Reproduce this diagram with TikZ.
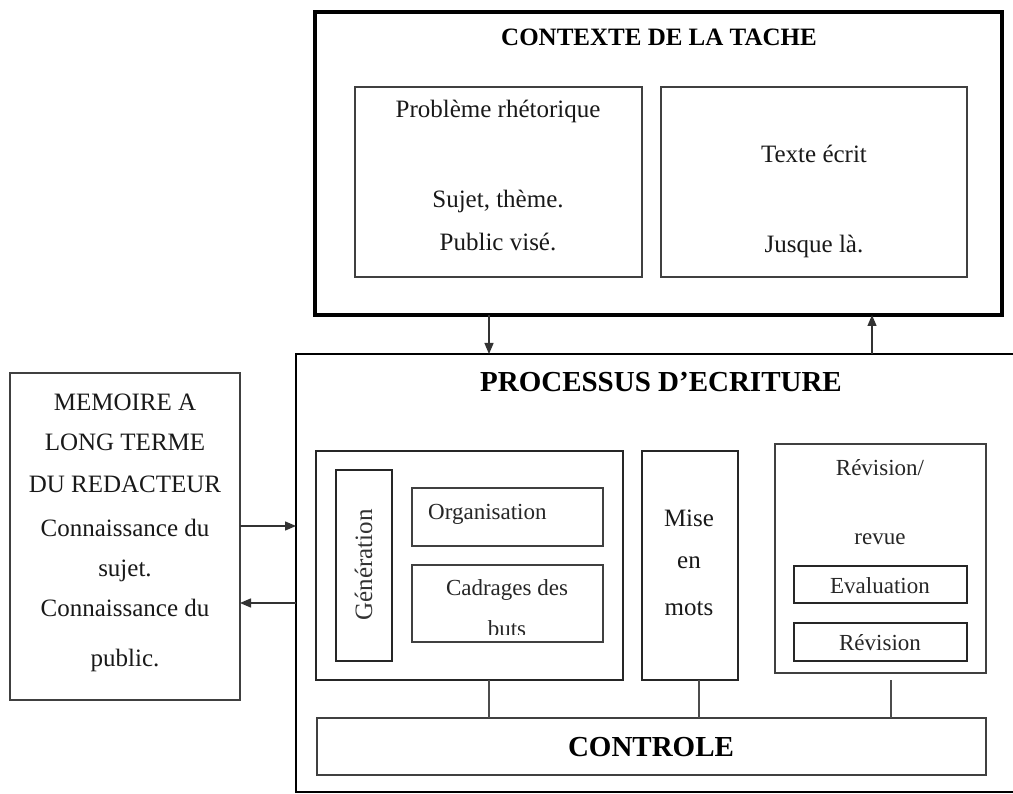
\documentclass[tikz,border=0pt]{standalone}
\usepackage{fontspec}
\setmainfont{Liberation Serif}
\usetikzlibrary{arrows.meta}
\tikzset{
  box/.style={draw=black!75, line width=1.3pt, rectangle, inner sep=0pt, outer sep=0pt},
  txt/.style={inner sep=0pt, align=center, text=black!90, font=\fontsize{25}{30}\selectfont, text height=18pt, text depth=2pt},
  stxt/.style={inner sep=0pt, align=center, text=black!85, font=\fontsize{23}{28}\selectfont, text height=16.5pt, text depth=2pt},
  ttl/.style={inner sep=0pt, align=center, text=black, font=\fontsize{25}{30}\selectfont\bfseries, text height=18pt, text depth=1pt},
  bttl/.style={inner sep=0pt, align=center, text=black, font=\fontsize{29}{34}\selectfont\bfseries, text height=21pt, text depth=1pt},
  arr/.style={draw=black!80, line width=1.3pt, -{Triangle[length=11pt,width=9pt]}},
  link/.style={draw=black!70, line width=1.2pt},
}
\newcommand\drawbox[6][]{\node[box,#1,minimum width={(#5-#3)*1pt},minimum height={(#6-#4)*1pt}] (#2) at ({(#3+#5)/2},{(#4+#6)/2}) {};}
\begin{document}
\begin{tikzpicture}[x=1pt,y=-1pt]
\clip (0,0) rectangle (1013,794);
\fill[white] (0,0) rectangle (1013,794);

% ---- Contexte de la tache
\drawbox[draw=black,line width=4.5pt]{ctx}{315}{12}{1002}{315}
\node[ttl] (ctxt) at (659,37) {CONTEXTE DE LA TACHE};
\drawbox{prob}{355}{87}{642}{277}
\node[txt] (prob1) at (498,110) {Problème rhétorique};
\node[txt] (prob2) at (498,200) {Sujet, thème.};
\node[txt] (prob3) at (498,243) {Public visé.};
\drawbox{texte}{661}{87}{967}{277}
\node[txt] (tex1) at (814,155) {Texte écrit};
\node[txt] (tex2) at (814,245) {Jusque là.};

% ---- Processus d'ecriture
\drawbox[draw=black,line width=2pt]{proc}{296}{354}{1030}{792}
\node[bttl] (proct) at (661,382) {PROCESSUS D’ECRITURE};

% generation group
\drawbox[draw=black!85]{gen}{316}{451}{623}{680}
\drawbox[draw=black!85]{genb}{336}{470}{392}{661}
\node[txt, rotate=90, text=black!80] (gent) at (364,565) {Génération};
\drawbox{org}{412}{488}{603}{546}
\node[stxt, anchor=west] (orgt) at (428,512) {Organisation};
\begin{scope}
  \clip (412,565) rectangle (603,634);
  \node[stxt] (buts) at (507,629) {buts};
\end{scope}
\drawbox{cad}{412}{565}{603}{642}
\node[stxt] (cadt) at (507,588) {Cadrages des};

% mise en mots
\drawbox[draw=black!85]{mise}{642}{451}{738}{680}
\node[txt] (mise1) at (689,518) {Mise};
\node[txt] (mise2) at (689,560) {en};
\node[txt] (mise3) at (689,607) {mots};

% revision group
\drawbox{revg}{775}{444}{986}{673}
\node[stxt] (revg1) at (880,468) {Révision/};
\node[stxt] (revg2) at (880,537) {revue};
\drawbox[draw=black!85]{eval}{794}{566}{967}{603}
\node[stxt] (evalt) at (880,586) {Evaluation};
\drawbox[draw=black!85]{rev}{794}{623}{967}{661}
\node[stxt] (revt) at (880,643) {Révision};

% controle
\drawbox{ctl}{317}{718}{986}{775}
\node[bttl] (ctlt) at (651,746) {CONTROLE};

\coordinate (c1) at (489,0);
\coordinate (c2) at (699,0);
\coordinate (c3) at (891,0);
\draw[link] (gen.south -| c1) -- (ctl.north -| c1);
\draw[link] (mise.south -| c2) -- (ctl.north -| c2);
\draw[link] ([yshift=-7pt]revg.south -| c3) -- (ctl.north -| c3);

% ---- Memoire a long terme
\drawbox{mem}{10}{373}{240}{700}
\node[txt] (m1) at (125,403) {MEMOIRE A};
\node[txt] (m2) at (125,443) {LONG TERME};
\node[txt] (m3) at (125,485) {DU REDACTEUR};
\node[txt] (m4) at (125,528) {Connaissance du};
\node[txt] (m5) at (125,568) {sujet.};
\node[txt] (m6) at (125,608) {Connaissance du};
\node[txt] (m7) at (125,658) {public.};

% ---- arrows
\coordinate (a1) at (489,0);
\coordinate (a2) at (872,0);
\coordinate (r1) at (0,526);
\coordinate (r2) at (0,603);
\draw[arr] (ctx.south -| a1) -- (proc.north -| a1);
\draw[arr] (proc.north -| a2) -- (ctx.south -| a2);
\draw[arr] (mem.east |- r1) -- (proc.west |- r1);
\draw[arr] (proc.west |- r2) -- (mem.east |- r2);
\end{tikzpicture}
\end{document}
